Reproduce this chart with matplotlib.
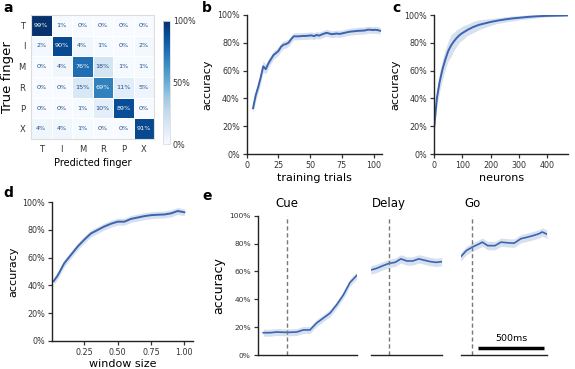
import numpy as np
import matplotlib
matplotlib.use('Agg')
import matplotlib.pyplot as plt
from matplotlib.ticker import FuncFormatter

plt.rcParams['font.family'] = ['DejaVu Sans']

W, H = 575, 369

# ---- data ----
fingers = ['T', 'I', 'M', 'R', 'P', 'X']
conf = [
    [99, 1, 0, 0, 0, 0],
    [2, 90, 4, 1, 0, 2],
    [0, 4, 76, 18, 1, 1],
    [0, 0, 15, 69, 11, 5],
    [0, 0, 1, 10, 89, 0],
    [4, 4, 1, 0, 0, 91],
]

trials_x = [5, 7, 9, 11, 13, 15, 17, 19, 21, 23, 25, 27, 29, 31, 33, 35, 37, 39, 41, 43,
            45, 47, 49, 51, 53, 55, 57, 59, 61, 63, 65, 67, 69, 71, 73, 75, 77, 79, 81, 83,
            85, 87, 89, 91, 93, 95, 97, 99, 101, 103, 105]
trials_acc = [33, 42, 48, 55, 63, 61, 65, 68, 71, 72.5, 74, 77, 78.5, 79, 80, 82.5, 84.5, 84.5, 84.5, 84.7,
              84.8, 84.8, 85, 85.2, 84.6, 85.5, 85, 85.8, 86.5, 87, 86.5, 86, 86.3, 86.5, 86.2, 86.6, 87, 87.4, 87.8, 88,
              88.2, 88.4, 88.5, 88.6, 88.7, 89.2, 89.3, 89, 89.2, 89, 88.5]
trials_err = [3.5, 4, 4, 4, 4, 3.5, 3.5, 3, 3, 3, 3, 3, 2.8, 2.8, 2.5, 2.5, 2.5, 2.5, 2.5, 2.5,
              2.5, 2.5, 2.5, 2.5, 2.5, 2.5, 2.5, 2.5, 2.5, 2.5, 2.5, 2.5, 2.5, 2.5, 2.5, 2.5, 2.5, 2.5, 2.5, 2.5,
              2.5, 2.5, 2.5, 2.5, 2.5, 2.5, 2.5, 2.5, 2.5, 2.5, 2.5]

neurons_x = [1, 10, 20, 30, 40, 50, 60, 70, 80, 90, 100, 120, 140, 160, 180, 200, 225, 250,
             275, 300, 325, 350, 375, 400, 425, 450, 470]
neurons_acc = [20, 40, 52, 61, 68, 74, 78, 81, 83.5, 85.5, 87, 89.5, 91.5, 93, 94, 95, 96, 96.8,
               97.5, 98, 98.5, 98.9, 99.2, 99.4, 99.5, 99.6, 99.7]
neurons_err = [3, 6, 7, 7, 7, 7, 8, 6.5, 6, 5, 5, 4, 4, 3.5, 3, 2.5, 2, 2,
               1.8, 1.5, 1.5, 1.2, 1, 0.8, 0.6, 0.5, 0.4]

window_x = [0.02, 0.05, 0.1, 0.15, 0.2, 0.25, 0.3, 0.35, 0.4, 0.45, 0.5, 0.55, 0.6, 0.65,
            0.7, 0.75, 0.8, 0.85, 0.9, 0.95, 1.0]
window_acc = [43, 47, 56, 62, 68, 73, 77.5, 80, 82.5, 84.5, 86, 86, 88, 89,
              90, 90.7, 91, 91.2, 92, 93.7, 92.8]
window_err = [2.5] * 21

cue_t = [-176, -125, -75, -25, 25, 75, 125, 175, 225, 275, 325, 375, 425, 475, 525]
cue_acc = [16, 16, 16.5, 16.3, 16.3, 16.5, 18, 18, 23, 26.5, 30, 36, 43, 52, 57]
delay_t = [-140, -95, -50, 0, 45, 90, 135, 180, 225, 270, 315, 360, 400]
delay_acc = [61, 62.2, 64, 65.8, 66.5, 69, 67.5, 67.5, 69, 68, 67, 66.5, 67]
go_t = [-88, -45, 0, 45, 75, 115, 170, 215, 270, 315, 365, 410, 460, 500, 525, 560]
go_acc = [70.5, 75, 77.5, 79.5, 81, 78.5, 78.5, 81, 80.5, 80.3, 83.5, 84.5, 85.8, 87, 88.3, 86.8]
epochs = ['Cue', 'Delay', 'Go']

line_col = '#3b64b0'
tick_col = '#333333'
pct = FuncFormatter(lambda v, p: '%d%%' % round(v))


def px(l, t, r, b):
    return [l / W, 1 - b / H, (r - l) / W, (b - t) / H]


def style(ax, left=True):
    for s in ['top', 'right']:
        ax.spines[s].set_visible(False)
    for s in ['left', 'bottom']:
        ax.spines[s].set_linewidth(1.0)
        ax.spines[s].set_color('#222222')
    ax.tick_params(labelsize=5.8, colors=tick_col, length=3, width=0.9, pad=2)
    if not left:
        ax.spines['left'].set_visible(False)
        ax.tick_params(axis='y', left=False, labelleft=False)


def band(ax, x, y, e, lw=1.4):
    x = np.array(x, float)
    y = np.array(y, float)
    e = np.array(e, float)
    ax.fill_between(x, y - e, y + e, color=line_col, alpha=0.2, lw=0)
    ax.plot(x, y, color=line_col, lw=lw)


fig = plt.figure(figsize=(W / 100, H / 100), dpi=100)

# ---- a: confusion matrix ----
ax = fig.add_axes(px(31, 15, 154, 139))
cm = np.array(conf) / 100.0
mesh = ax.pcolormesh(cm, cmap='Blues', vmin=0, vmax=1, edgecolors='white', linewidth=0.6)
ax.set_xlim(0, 6)
ax.set_ylim(6, 0)
for i in range(6):
    for j in range(6):
        v = cm[i, j]
        ax.text(j + 0.5, i + 0.5, '%d%%' % conf[i][j], ha='center', va='center',
                fontsize=4.6, color='white' if v > 0.55 else '#1f4b8a')
ax.set_xticks(np.arange(6) + 0.5)
ax.set_yticks(np.arange(6) + 0.5)
ax.set_xticklabels(fingers)
ax.set_yticklabels(fingers, rotation=0)
ax.tick_params(length=0, labelsize=6, colors=tick_col, pad=4)
for s in ax.spines.values():
    s.set_color('#dddddd')
    s.set_linewidth(0.8)
ax.set_ylabel('True finger', fontsize=9.5, labelpad=3)
ax.set_xlabel('Predicted finger', fontsize=7, labelpad=3)

cax = fig.add_axes(px(163, 21, 170, 144))
cb = fig.colorbar(mesh, cax=cax, ticks=[0, 0.5, 1])
cb.ax.set_yticklabels(['0%', '50%', '100%'])
cb.ax.tick_params(length=0, labelsize=5.8, colors=tick_col, pad=2)
cb.outline.set_edgecolor('#dddddd')
cb.outline.set_linewidth(0.6)

# ---- b: training trials ----
ax = fig.add_axes(px(246.7, 14.7, 382, 154.3))
band(ax, trials_x, trials_acc, trials_err)
ax.set_xlim(0, 106.5)
ax.set_ylim(0, 100)
ax.set_xticks([0, 25, 50, 75, 100])
ax.set_yticks([0, 20, 40, 60, 80, 100])
ax.yaxis.set_major_formatter(pct)
style(ax)
ax.set_xlabel('training trials', fontsize=8, labelpad=2)
ax.set_ylabel('accuracy', fontsize=8, labelpad=3)

# ---- c: neurons ----
ax = fig.add_axes(px(434, 15, 568.3, 154))
band(ax, neurons_x, neurons_acc, neurons_err)
ax.set_xlim(0, 474)
ax.set_ylim(0, 100)
ax.set_xticks([0, 100, 200, 300, 400])
ax.set_yticks([0, 20, 40, 60, 80, 100])
ax.yaxis.set_major_formatter(pct)
style(ax)
ax.set_xlabel('neurons', fontsize=8, labelpad=2)
ax.set_ylabel('accuracy', fontsize=8, labelpad=3)

# ---- d: window size ----
ax = fig.add_axes(px(52, 202.3, 193.3, 340.7))
band(ax, window_x, window_acc, window_err)
ax.set_xlim(0.008, 1.067)
ax.set_ylim(0, 100)
ax.set_xticks([0.25, 0.5, 0.75, 1.0])
ax.set_xticklabels(['0.25', '0.50', '0.75', '1.00'])
ax.set_yticks([0, 20, 40, 60, 80, 100])
ax.yaxis.set_major_formatter(pct)
style(ax)
ax.set_xlabel('window size', fontsize=8, labelpad=2)
ax.set_ylabel('accuracy', fontsize=8, labelpad=3)

# ---- e: time course per epoch ----
seg_rects = [(257.7, 356.7), (370.7, 441.7), (460.7, 546.7)]
seg_lims = [(-218, 526), (-140, 400), (-88, 559)]
seg_t = [cue_t, delay_t, go_t]
seg_acc = [cue_acc, delay_acc, go_acc]
seg_err = [2.5, 3, 3]
for k in range(3):
    l, r = seg_rects[k]
    ax = fig.add_axes(px(l, 215.7, r, 355))
    band(ax, seg_t[k], seg_acc[k], [seg_err[k]] * len(seg_t[k]), lw=1.2)
    ax.axvline(0, color='#777777', ls='--', lw=1.0, dashes=(3, 2))
    ax.set_xlim(*seg_lims[k])
    ax.set_ylim(0, 100)
    ax.set_xticks([])
    ax.set_yticks([0, 20, 40, 60, 80, 100])
    ax.yaxis.set_major_formatter(pct)
    style(ax, left=(k == 0))
    ax.tick_params(axis='y', labelsize=5.4)
    ax.text(0, 104, epochs[k], ha='center', va='bottom', fontsize=8.5,
            transform=ax.transData, clip_on=False)
    if k == 0:
        ax.set_ylabel('accuracy', fontsize=9, labelpad=3)
    if k == 2:
        ax.plot([40, 540], [4.8, 4.8], color='black', lw=2.5, solid_capstyle='butt')
        ax.text(290, 8.5, '500ms', ha='center', va='bottom', fontsize=6.8)

# ---- panel letters ----
for lab, x, y in [('a', 3, 12), ('b', 202, 12), ('c', 392, 12), ('d', 3, 197), ('e', 202, 200)]:
    fig.text(x / W, 1 - y / H, lab, fontsize=10, fontweight='bold', va='baseline')

fig.savefig('out.png', dpi=100)
